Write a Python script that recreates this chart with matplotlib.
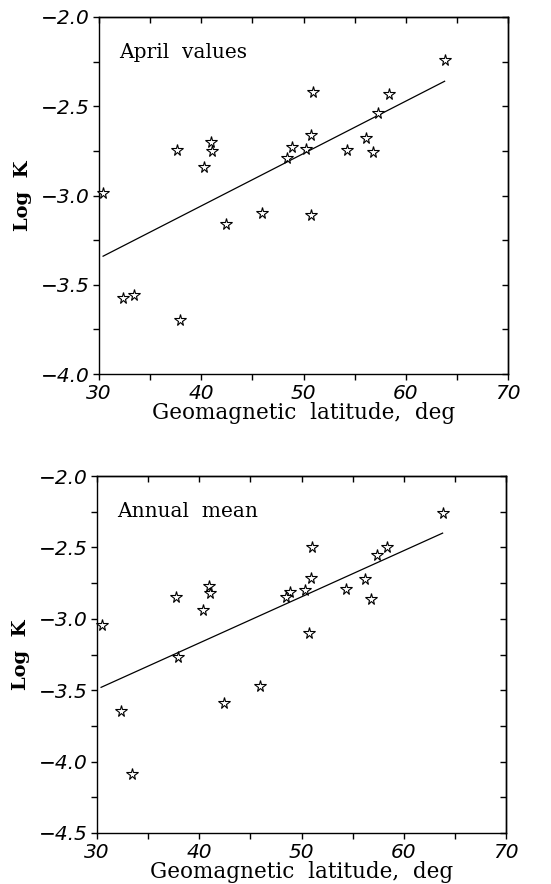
"""
Log K frente a latitud geomagnetica: valores de abril y media anual.
"""

import matplotlib

matplotlib.use("Agg")

import matplotlib.pyplot as plt
from matplotlib.ticker import MultipleLocator


# Estaciones (latitud geomagnetica, grados)
lat_april = [63.8, 50.9, 58.4, 57.3, 50.7, 56.1, 54.3, 56.8, 48.9, 50.2, 48.4,
             37.6, 41.0, 41.05, 40.3, 30.4, 42.4, 45.9, 50.7, 32.3, 33.4, 37.9]
logk_april = [-2.24, -2.42, -2.43, -2.54, -2.66, -2.68, -2.745, -2.755, -2.73, -2.74, -2.79,
              -2.745, -2.70, -2.75, -2.84, -2.985, -3.16, -3.10, -3.11, -3.575, -3.56, -3.70]

lat_annual = [63.8, 51.0, 58.4, 57.4, 50.9, 56.2, 54.4, 56.8, 48.9, 50.3, 48.5,
              37.7, 41.0, 41.1, 40.4, 30.5, 50.7, 37.9, 42.4, 45.9, 32.3, 33.4]
logk_annual = [-2.26, -2.50, -2.50, -2.55, -2.715, -2.72, -2.79, -2.86, -2.81, -2.80, -2.85,
               -2.85, -2.77, -2.82, -2.94, -3.04, -3.10, -3.27, -3.59, -3.47, -3.645, -4.09]

# Rectas de ajuste (extremos)
fit_lat_april = [30.4, 63.8]
fit_logk_april = [-3.34, -2.36]
fit_lat_annual = [30.4, 63.8]
fit_logk_annual = [-3.48, -2.40]

W, H = 551, 884

TICK_FONT = dict(family="DejaVu Sans", style="italic", size=14.5)
LABEL_FONT = dict(family="DejaVu Serif", size=15.5)


def add_panel(rect_px, lat, logk, fit_lat, fit_logk, ymin, title):
    left, top, right, bottom = rect_px
    ax = plt.gcf().add_axes([left / W, 1 - bottom / H, (right - left) / W, (bottom - top) / H])

    ax.plot(lat, logk, linestyle="none", marker="*", markersize=8.5,
            markerfacecolor="white", markeredgecolor="black", markeredgewidth=0.8,
            clip_on=False, zorder=3)
    ax.plot(fit_lat, fit_logk, color="black", linewidth=0.9)

    ax.set_xlim(30, 70)
    ax.set_ylim(ymin, -2.0)
    ax.xaxis.set_major_locator(MultipleLocator(10))
    ax.xaxis.set_minor_locator(MultipleLocator(5))
    ax.yaxis.set_major_locator(MultipleLocator(0.5))
    ax.yaxis.set_minor_locator(MultipleLocator(0.25))
    ax.tick_params(which="both", direction="out", length=4, width=1.0, pad=3,
                   top=False, right=False)
    ax.xaxis.set_major_formatter(matplotlib.ticker.FormatStrFormatter("%d"))
    ax.yaxis.set_major_formatter(matplotlib.ticker.FuncFormatter(lambda v, p: f"\u2212{abs(v):.1f}"))
    for lab in ax.get_xticklabels() + ax.get_yticklabels():
        lab.set_fontfamily(TICK_FONT["family"])
        lab.set_fontstyle(TICK_FONT["style"])
        lab.set_fontsize(TICK_FONT["size"])

    # Ticks hacia dentro en los lados superior y derecho
    sec_x = ax.secondary_xaxis("top")
    sec_x.xaxis.set_major_locator(MultipleLocator(5))
    sec_x.tick_params(direction="in", length=4, width=1.0, labeltop=False)
    sec_y = ax.secondary_yaxis("right")
    sec_y.yaxis.set_major_locator(MultipleLocator(0.25))
    sec_y.tick_params(direction="in", length=4, width=1.0, labelright=False)
    for sec in (sec_x, sec_y):
        for spine in sec.spines.values():
            spine.set_linewidth(1.0)

    for spine in ax.spines.values():
        spine.set_linewidth(1.0)

    ax.set_xlabel("Geomagnetic  latitude,  deg", **LABEL_FONT)
    ax.xaxis.set_label_coords(0.5, -0.078)
    ax.set_ylabel("Log  K", family="DejaVu Serif", weight="bold", size=14)
    ax.yaxis.set_label_coords(-0.163, 0.5)
    ax.text(0.05, 0.9, title, transform=ax.transAxes, family="DejaVu Serif",
            size=14.5, va="center", ha="left")
    return ax


fig = plt.figure(figsize=(W / 100, H / 100), dpi=100)
fig.patch.set_facecolor("white")

add_panel((99, 17, 508, 374), lat_april, logk_april, fit_lat_april, fit_logk_april,
          -4.0, "April  values")
add_panel((97, 476, 506, 833), lat_annual, logk_annual, fit_lat_annual, fit_logk_annual,
          -4.5, "Annual  mean")

fig.savefig("out.png", dpi=100)
